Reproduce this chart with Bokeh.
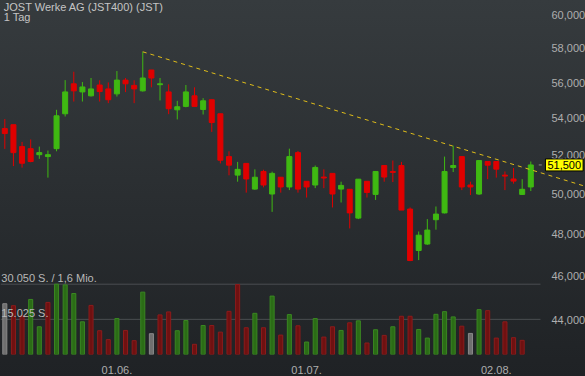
from bokeh.plotting import figure
from bokeh.models import (Range1d, LinearScale, FixedTicker, CustomJSTickFormatter,
                          Label, ColumnDataSource)
from bokeh.embed import file_html
from bokeh.resources import INLINE

# ---------------- data ----------------
dates = [
    "2022-05-13", "2022-05-16", "2022-05-17", "2022-05-18", "2022-05-19", "2022-05-20",
    "2022-05-23", "2022-05-24", "2022-05-25", "2022-05-26", "2022-05-27", "2022-05-30",
    "2022-05-31", "2022-06-01", "2022-06-02", "2022-06-03", "2022-06-06", "2022-06-07",
    "2022-06-08", "2022-06-09", "2022-06-10", "2022-06-13", "2022-06-14", "2022-06-15",
    "2022-06-16", "2022-06-17", "2022-06-20", "2022-06-21", "2022-06-22", "2022-06-23",
    "2022-06-24", "2022-06-27", "2022-06-28", "2022-06-29", "2022-06-30", "2022-07-01",
    "2022-07-04", "2022-07-05", "2022-07-06", "2022-07-07", "2022-07-08", "2022-07-11",
    "2022-07-12", "2022-07-13", "2022-07-14", "2022-07-15", "2022-07-18", "2022-07-19",
    "2022-07-20", "2022-07-21", "2022-07-22", "2022-07-25", "2022-07-26", "2022-07-27",
    "2022-07-28", "2022-07-29", "2022-08-01", "2022-08-02", "2022-08-03", "2022-08-04",
    "2022-08-05", "2022-08-08",
]
opens = [53.44, 53.65, 52.47, 52.36, 52.04, 51.94, 52.36, 54.25, 55.93, 55.47,
         55.25, 55.86, 55.64, 55.36, 56.14, 55.84, 55.53, 56.72, 55.88, 55.47,
         54.47, 54.66, 55.25, 54.49, 55.03, 54.25, 51.94, 50.97, 51.58, 50.25,
         51.16, 50.00, 50.86, 50.36, 52.15, 50.65, 50.46, 50.87, 51.06, 50.25,
         50.24, 48.79, 50.65, 49.98, 51.47, 51.16, 51.47, 49.24, 47.21, 47.52,
         48.71, 49.05, 51.37, 51.94, 50.46, 50.00, 51.68, 51.68, 50.97, 50.77,
         49.98, 50.36]
highs = [53.96, 53.65, 52.72, 52.85, 52.47, 52.26, 54.47, 56.14, 56.62, 56.03,
         56.26, 56.13, 56.01, 56.66, 56.26, 56.13, 57.78, 56.72, 56.26, 55.90,
         54.97, 55.86, 55.73, 55.12, 55.03, 54.25, 52.22, 51.66, 51.58, 51.27,
         51.25, 51.15, 50.86, 52.36, 52.24, 50.65, 51.47, 51.27, 51.06, 50.63,
         50.24, 50.76, 50.65, 51.16, 51.47, 51.73, 51.66, 49.32, 48.13, 48.74,
         49.37, 51.94, 52.52, 51.94, 50.63, 51.73, 51.68, 51.68, 51.16, 51.34,
         50.76, 51.68]
lows = [52.35, 51.44, 51.36, 51.64, 51.82, 50.84, 52.22, 54.10, 54.93, 54.93,
        55.21, 54.93, 54.84, 55.21, 55.46, 54.84, 55.49, 55.73, 54.99, 54.23,
        53.94, 54.61, 54.64, 54.21, 53.26, 51.58, 50.96, 50.63, 50.07, 50.22,
        50.34, 49.10, 50.07, 50.20, 50.07, 49.82, 50.30, 50.30, 49.32, 49.57,
        48.28, 48.74, 49.82, 49.70, 50.63, 50.61, 49.19, 46.70, 46.75, 47.48,
        48.22, 49.02, 51.13, 50.20, 49.95, 49.95, 50.76, 50.84, 50.20, 50.53,
        49.96, 50.15]
closes = [53.17, 52.15, 51.59, 51.68, 52.15, 52.04, 54.14, 55.47, 55.53, 55.75,
          55.64, 55.49, 55.03, 56.14, 55.93, 55.64, 56.26, 56.26, 55.93, 54.53,
          54.64, 55.47, 54.66, 54.97, 53.77, 51.75, 51.49, 51.27, 50.77, 50.86,
          50.46, 51.06, 50.36, 51.94, 50.25, 50.36, 51.37, 50.82, 50.00, 50.44,
          49.05, 50.76, 50.08, 51.16, 50.87, 51.11, 49.19, 46.73, 47.95, 48.20,
          48.99, 51.16, 51.47, 50.36, 50.36, 51.73, 51.49, 51.28, 50.92, 50.66,
          50.24, 51.50]
volumes = [21700, 20860, 16500, 23530, 11850, 22260, 30050, 29750, 26070, 13970,
           20990, 10160, 6350, 15360, 10280, 5920, 26660, 8890, 16930, 18200,
           10160, 14520, 4360, 12400, 12400, 9560, 18450, 29880, 11430, 17600,
           11430, 24970, 8300, 17060, 12270, 5330, 15360, 7450, 11850, 10280,
           13540, 14390, 4910, 10580, 8170, 11850, 16340, 16340, 10700, 7020,
           17180, 18320, 16080, 12100, 9010, 19170, 18750, 7020, 13960, 7190,
           6050, None]
price_ticks = [44, 46, 48, 50, 52, 54, 56, 58, 60]
tick_dates = ["2022-06-01", "2022-07-01", "2022-08-02"]
trend_start = (16, 57.78)
trend_end = (67.34, 50.39)
title_text = "JOST Werke AG (JST400) (JST)"
period_text = "1 Tag"
turnover_text = "1,6 Mio."

# ---------------- colours ----------------
UP, DOWN = "#3fb912", "#e00000"
VOL_UP, VOL_UP_LINE = "#2b6c16", "#3a8722"
VOL_DN, VOL_DN_LINE = "#6f1111", "#8d1b1b"
VOL_FLAT, VOL_FLAT_LINE = "#6f6f6f", "#8a8a8a"
TXT = "#aeaeae"

# plot area: price/volume panel ends at index X_EDGE, axis labels live beyond it
X_LEFT, X_EDGE, X_RIGHT = -0.5, 62.125, 67.344

n = len(dates)
idx = list(range(n))
cdl_col = [UP if c >= o else DOWN for o, c in zip(opens, closes)]
src = ColumnDataSource(dict(
    x=idx, high=highs, low=lows,
    top=[max(o, c) for o, c in zip(opens, closes)],
    bottom=[min(o, c) for o, c in zip(opens, closes)],
    color=cdl_col,
))

vx, vv, vf, vl = [], [], [], []
for i, v in enumerate(volumes):
    if v is None:
        continue
    if i == 0 or closes[i] == closes[i - 1]:
        f, l = VOL_FLAT, VOL_FLAT_LINE
    elif closes[i] > closes[i - 1]:
        f, l = VOL_UP, VOL_UP_LINE
    else:
        f, l = VOL_DN, VOL_DN_LINE
    vx.append(i); vv.append(v); vf.append(f); vl.append(l)
vsrc = ColumnDataSource(dict(x=vx, v=vv, fill=vf, line=vl))
vmax = max(vv)

# ---------------- figure ----------------
p = figure(width=585, height=376, output_backend="svg", toolbar_location=None,
           y_axis_type="log", y_axis_location="right",
           x_range=Range1d(X_LEFT, X_RIGHT), y_range=Range1d(42.471, 60.874),
           min_border_left=0, min_border_top=0, min_border_right=0,
           min_border_bottom=20)
p.extra_y_ranges = {"vol": Range1d(0, vmax * 356 / 70.7)}
p.extra_y_scales = {"vol": LinearScale()}
p.background_fill_alpha = 0
p.border_fill_alpha = 0
p.outline_line_color = None
p.styles = {"background": "linear-gradient(180deg, #363b3e 0%, #1f2225 100%)"}
p.xgrid.visible = False
p.ygrid.visible = False

# volume grid lines and labels
p.segment(x0=[X_LEFT, X_LEFT], x1=[X_EDGE, X_EDGE], y0=[vmax, vmax / 2], y1=[vmax, vmax / 2],
          y_range_name="vol", line_color="#4a4e51", line_width=1)
fmt = lambda v: f"{int(round(v)):,}".replace(",", ".")
p.add_layout(Label(x=-0.4, y=vmax, y_range_name="vol",
                   text=f"{fmt(vmax)} S. / {turnover_text}", text_baseline="bottom",
                   text_font="Liberation Sans", text_font_size="11px", text_color="#b8b8b8"))
p.add_layout(Label(x=-0.4, y=vmax / 2, y_range_name="vol",
                   text=f"{fmt(vmax / 2)} S.", text_baseline="bottom",
                   text_font="Liberation Sans", text_font_size="11px", text_color="#b8b8b8"))

# volume bars
p.vbar(x="x", top="v", bottom=0, width=0.47, source=vsrc, y_range_name="vol",
       fill_color="fill", line_color="line", line_width=1)

# candles
p.segment(x0="x", y0="low", x1="x", y1="high", source=src, line_color="color", line_width=1)
p.vbar(x="x", top="top", bottom="bottom", width=0.58, source=src,
       fill_color="color", line_color="color", line_width=1)

# trend line
p.line(x=[trend_start[0], trend_end[0]], y=[trend_start[1], trend_end[1]],
       line_color="#e0bd1a", line_width=1, line_dash="4 4")

# last price marker and label
last = closes[-1]
p.segment(x0=[X_EDGE - 0.2], x1=[X_EDGE + 0.15], y0=[last], y1=[last],
          line_color="#8a8a8a", line_width=1)
p.add_layout(Label(x=62.7, y=last, text=f"{last:.3f}".replace(".", ","),
                   text_baseline="middle", text_align="left",
                   text_font="Liberation Sans", text_font_size="11px", text_color="black",
                   background_fill_color="#ffff00", border_line_color="black",
                   padding=2))

# titles
p.add_layout(Label(x=-0.12, y=60.874, text=title_text, text_baseline="top",
                   text_font="Liberation Sans", text_font_size="11px", text_color="#c4c4c4"))
p.add_layout(Label(x=-0.12, y=60.20, text=period_text, text_baseline="top",
                   text_font="Liberation Sans", text_font_size="11px", text_color="#c4c4c4"))

# axes
yax = p.yaxis[0]
yax.fixed_location = X_EDGE
yax.ticker = FixedTicker(ticks=price_ticks, minor_ticks=[])
yax.formatter = CustomJSTickFormatter(code="return tick.toFixed(3).replace('.', ',');")
xax = p.xaxis[0]
tick_idx = [dates.index(d) for d in tick_dates]
xax.ticker = FixedTicker(ticks=tick_idx, minor_ticks=[])
xax.major_label_overrides = {i: f"{dates[i][8:10]}.{dates[i][5:7]}." for i in tick_idx}
for ax in (xax, yax):
    ax.axis_line_color = None
    ax.major_tick_line_color = None
    ax.minor_tick_line_color = None
    ax.major_label_text_font = "Liberation Sans"
    ax.major_label_text_font_size = "11px"
    ax.major_label_text_color = TXT
    ax.major_label_standoff = 5

open("out.html", "w").write(file_html(p, INLINE))
